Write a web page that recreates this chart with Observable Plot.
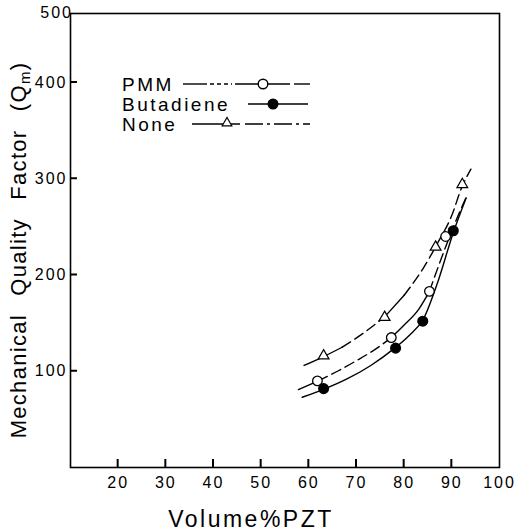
<!DOCTYPE html>
<html><head><meta charset="utf-8">
<script src="https://cdn.jsdelivr.net/npm/d3@7"></script>
<script src="https://cdn.jsdelivr.net/npm/@observablehq/plot@0.6"></script>
<style>
body{margin:0;background:#fff}
#chart svg text{font-family:"Liberation Sans",Arial,sans-serif}
</style>
</head><body><div id="chart"></div>
<script>
// measured points
const pmmX = [61.8, 77.3, 85.3, 88.7];
const pmmY = [90, 135, 183, 240];
const butX = [63.1, 78.2, 83.9, 90.3];
const butY = [82, 124, 152, 246];
const noneX = [63.1, 75.9, 86.6, 92.2];
const noneY = [116, 156, 229, 294];

// fitted curves
const noneCurveX = [59, 63, 67, 71, 76, 80, 84, 87, 90, 92, 94];
const noneCurveY = [106, 115, 125, 138, 157, 179, 207, 233, 262, 290, 310];
const noneCurveStyle = ["solid","solid","dash","dash","solid","dash","dash","dash","dash","dash"];
const pmmCurveX = [57.8, 62, 66, 70, 74, 77.3, 80, 83, 85.3, 88, 90.5, 93.3];
const pmmCurveY = [81, 90, 100, 111, 123, 135, 148, 164, 183, 220, 252, 284];
const pmmCurveStyle = ["solid","dash","dash","dash","dash","solid","solid","solid","dash","dash","dash"];
const butCurveX = [58.6, 63, 68, 73, 78, 81, 84, 87, 90.3, 93];
const butCurveY = [73, 81, 92, 106, 124, 137, 154, 192, 244, 280];
const butCurveStyle = ["solid","solid","solid","solid","solid","solid","solid","solid","solid"];

const xTicks = [20, 30, 40, 50, 60, 70, 80, 90, 100];
const yTicks = [100, 200, 300, 400];
const yTopLabel = "500";

const seriesNames = ["PMM", "Butadiene", "None"];
const xTitle = "Volume%PZT";
const yTitle = "Mechanical Quality Factor (Q";
const yTitleSub = "m";

const dashMap = {solid: null, dash: "10,5"};

function pts(xs, ys) { return xs.map((x, i) => ({x, y: ys[i]})); }
function segments(xs, ys, styles) {
  const rows = [];
  let seg = 0;
  for (let i = 0; i < styles.length; i++) {
    if (i > 0 && styles[i] !== styles[i - 1]) seg++;
    rows.push({x: xs[i], y: ys[i], seg, style: styles[i]});
    rows.push({x: xs[i + 1], y: ys[i + 1], seg, style: styles[i]});
  }
  return rows.filter((r, i) => !(i > 0 && rows[i-1].seg === r.seg && rows[i-1].x === r.x));
}
function curveMarks(xs, ys, styles) {
  const rows = segments(xs, ys, styles);
  return Object.keys(dashMap).map(s => Plot.line(rows.filter(r => r.style === s), {
    x: "x", y: "y", z: "seg", curve: "monotone-x", stroke: "black", strokeWidth: 1.4,
    strokeDasharray: dashMap[s]
  }));
}

const xDomain = [10, 100], yDomain = [0, 400];
const plot = Plot.plot({
  width: 516, height: 531,
  marginLeft: 70, marginRight: 17, marginTop: 13, marginBottom: 64,
  style: {fontSize: "16px", background: "white", color: "black"},
  x: {domain: xDomain, range: [70, 499]},
  y: {domain: yDomain, range: [467, 82]},
  marks: [
    Plot.frame({stroke: "black", strokeWidth: 1.6}),
    Plot.axisX(xTicks, {tickSize: 0, tickPadding: 9, label: null, fontSize: 16}),
    Plot.axisY(yTicks, {tickSize: 0, tickPadding: 3, label: null, fontSize: 16}),
    ...curveMarks(noneCurveX, noneCurveY, noneCurveStyle),
    ...curveMarks(pmmCurveX, pmmCurveY, pmmCurveStyle),
    ...curveMarks(butCurveX, butCurveY, butCurveStyle),
    Plot.dot(pts(noneX, noneY), {x: "x", y: "y", symbol: "triangle", r: 4, fill: "white", stroke: "black", strokeWidth: 1.2}),
    Plot.dot(pts(pmmX, pmmY), {x: "x", y: "y", r: 4.8, fill: "white", stroke: "black", strokeWidth: 1.3}),
    Plot.dot(pts(butX, butY), {x: "x", y: "y", r: 4.8, fill: "black", stroke: "black"})
  ]
});
document.getElementById("chart").appendChild(plot);

const svg = d3.select(plot);
svg.selectAll("g[aria-label='y-axis tick label'] text, g[aria-label='x-axis tick label'] text").attr("letter-spacing", 2);

// inward tick marks drawn as filled rects (positions from Plot's scales)
const sx = plot.scale("x"), sy = plot.scale("y");
const fx = v => sx.apply(v), fy = v => sy.apply(v);
const bx = fx(xDomain[0]), by = fy(yDomain[0]);
const tg = svg.append("g").attr("fill", "black").attr("stroke", "none");
xTicks.slice(0, -1).forEach(v => tg.append("rect").attr("x", fx(v) - 1).attr("y", by - 8).attr("width", 2).attr("height", 8));
yTicks.forEach(v => tg.append("rect").attr("x", bx).attr("y", fy(v) - 1).attr("width", 7).attr("height", 2));

// "500" label at the top of the frame
svg.append("text").attr("x", 73).attr("y", 13).attr("dy", "0.32em").attr("text-anchor", "end")
  .attr("font-size", 16).attr("letter-spacing", 2).attr("fill", "black").text(yTopLabel);

// axis titles
svg.append("text").attr("x", 251).attr("y", 527).attr("text-anchor", "middle")
  .attr("font-size", 23).attr("letter-spacing", 2.5).attr("fill", "black").text(xTitle);
const yt = svg.append("text").attr("transform", "translate(26,250) rotate(-90)")
  .attr("text-anchor", "middle").attr("font-size", 22).attr("letter-spacing", 1.3)
  .attr("word-spacing", 11).attr("fill", "black");
yt.append("tspan").text(yTitle);
yt.append("tspan").attr("font-size", 15).attr("dy", 4).text(yTitleSub);
yt.append("tspan").attr("dy", -4).text(")");

// legend
const lg = svg.append("g").attr("stroke", "black").attr("stroke-width", 1.4);
const rowsY = [84, 104, 124];
seriesNames.forEach((n, i) => {
  svg.append("text").attr("x", 122).attr("y", rowsY[i] + 7).attr("font-size", 19)
    .attr("text-anchor", "start").attr("letter-spacing", 2.5).attr("fill", "black").text(n);
});
// PMM sample
lg.append("line").attr("x1", 183).attr("x2", 207).attr("y1", rowsY[0]).attr("y2", rowsY[0]);
lg.append("line").attr("x1", 210).attr("x2", 232).attr("y1", rowsY[0]).attr("y2", rowsY[0]).attr("stroke-dasharray", "4,3");
lg.append("line").attr("x1", 235).attr("x2", 290).attr("y1", rowsY[0]).attr("y2", rowsY[0]);
lg.append("line").attr("x1", 294).attr("x2", 310).attr("y1", rowsY[0]).attr("y2", rowsY[0]);
lg.append("circle").attr("cx", 263).attr("cy", rowsY[0]).attr("r", 4.8).attr("fill", "white");
// Butadiene sample
lg.append("line").attr("x1", 248).attr("x2", 308).attr("y1", rowsY[1]).attr("y2", rowsY[1]);
lg.append("circle").attr("cx", 273).attr("cy", rowsY[1]).attr("r", 4.8).attr("fill", "black");
// None sample
lg.append("line").attr("x1", 192).attr("x2", 240).attr("y1", rowsY[2]).attr("y2", rowsY[2]);
lg.append("line").attr("x1", 245).attr("x2", 310).attr("y1", rowsY[2]).attr("y2", rowsY[2]).attr("stroke-dasharray", "18,4,3,4");
lg.append("path").attr("d", d3.symbol(d3.symbolTriangle, 40)()).attr("transform", `translate(227,${rowsY[2]-1})`).attr("fill", "white").attr("stroke-width", 1.2);
</script>
</body></html>
